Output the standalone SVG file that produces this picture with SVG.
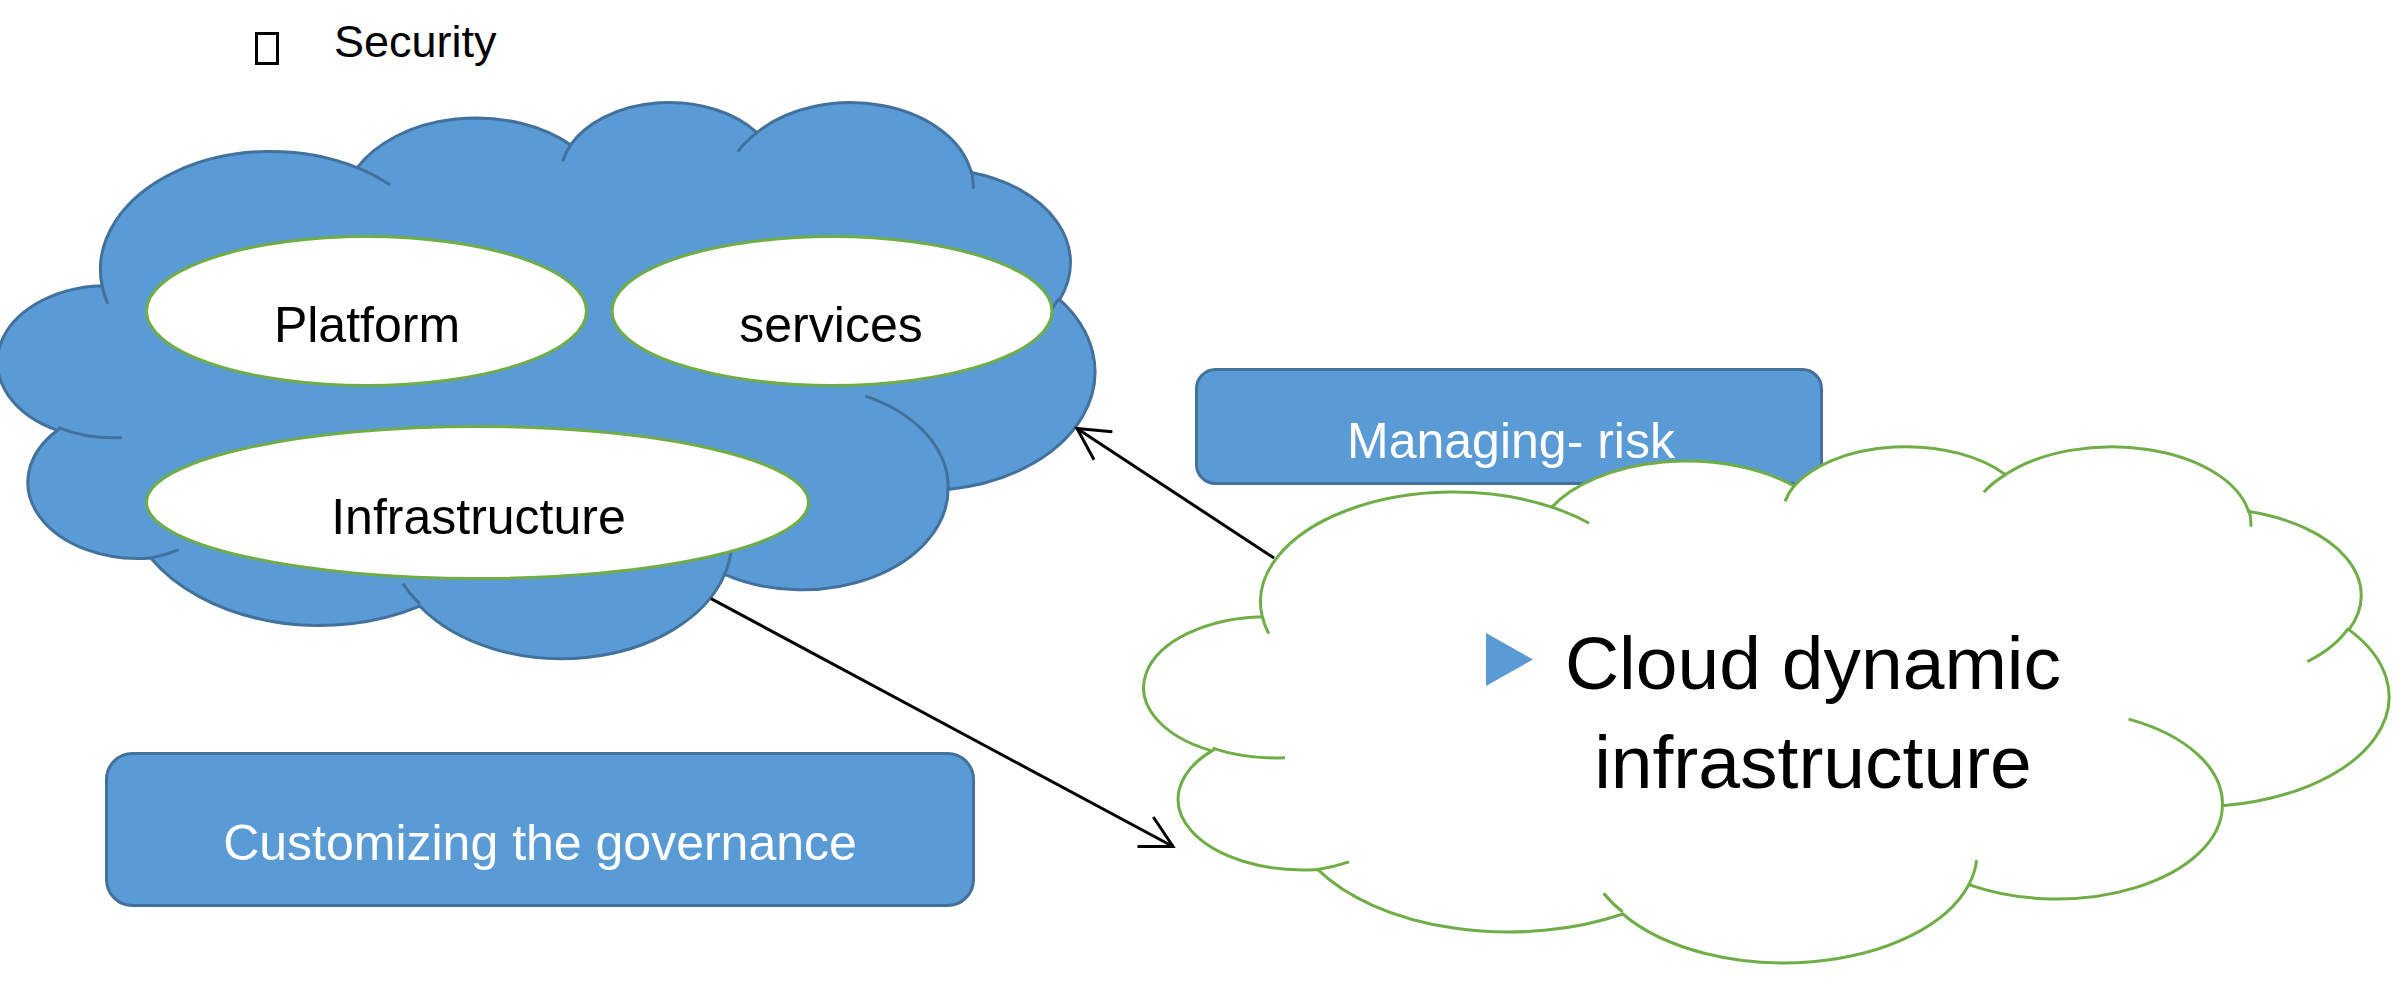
<svg xmlns="http://www.w3.org/2000/svg" xmlns:xlink="http://www.w3.org/1999/xlink" width="2393" height="990" viewBox="0 0 2393 990">
<style>
.lbl{font-family:"Liberation Sans",Arial,sans-serif;}
.blk{fill:#000000;}
.wht{fill:#FFFFFF;}
.blueFill{fill:#5B9BD5;stroke:#41719C;stroke-width:3;}
.blueLine{fill:none;stroke:#41719C;stroke-width:3;}
.whiteFill{fill:#FFFFFF;stroke:#70AD47;stroke-width:3;}
.greenLine{fill:none;stroke:#70AD47;stroke-width:3;}
.conn{fill:none;stroke:#000000;stroke-width:3;}
</style>
<defs>
<path id="cloudMain" vector-effect="non-scaling-stroke" d="M3900,14370 A6753,9190 0 0 1 14005,5202 A5333,7267 0 0 1 22456,3431 A4365,5945 0 0 1 29833,2479 A4857,6595 0 0 1 38318,5575 A5333,7273 0 0 1 41818,15459 A6775,9220 0 0 1 37404,30203 A5785,7867 0 0 1 28555,36813 A6752,9215 0 0 1 16480,39265 A7720,10543 0 0 1 5831,35533 A4360,5918 0 0 1 2140,25611 A4345,5945 0 0 1 3900,14370 Z"/>
<path id="cloudInner" vector-effect="non-scaling-stroke" d="M4693,26177 A4345,5945 0 0 1 2160,25380 M6928,34899 A4360,5918 0 0 1 5831,35533 M16478,39090 A6752,9215 0 0 1 15812,37524 M28827,34751 A6752,9215 0 0 1 28555,36813 M34129,22954 A5785,7867 0 0 1 37404,30203 M41798,15354 A5333,7273 0 0 1 40370,18134 M38324,5426 A4857,6595 0 0 1 38395,6838 M29078,3952 A4857,6595 0 0 1 29833,2479 M22141,4720 A4365,5945 0 0 1 22456,3431 M14005,5202 A6753,9190 0 0 1 15304,6550 M4127,15789 A6753,9190 0 0 1 3900,14370"/>
<marker id="openArrow" markerUnits="userSpaceOnUse" markerWidth="44" markerHeight="44" viewBox="-38 -22 44 44" refX="0" refY="0" orient="auto" overflow="visible">
<path d="M-30,-16 L0,0 L-30,16" fill="none" stroke="#000000" stroke-width="3" stroke-linecap="square"/>
</marker>
</defs>

<g id="node-security">
<rect x="256.5" y="33.5" width="21" height="30" fill="none" stroke="#000000" stroke-width="3"/>
<text class="lbl blk" x="334" y="57" font-size="45">Security</text>
</g>

<g id="node-left-cloud">
<use xlink:href="#cloudMain" class="blueFill" transform="translate(3.5,100.7) scale(0.0252546,0.0128704)"/>
<use xlink:href="#cloudInner" class="blueLine" transform="translate(3.5,100.7) scale(0.0252546,0.0128704)"/>
</g>

<g id="node-platform">
<ellipse cx="366.5" cy="311" rx="220" ry="74.5" class="whiteFill"/>
<text class="lbl blk" x="367" y="341.5" font-size="50" text-anchor="middle">Platform</text>
</g>

<g id="node-services">
<ellipse cx="832" cy="311" rx="220" ry="74.5" class="whiteFill"/>
<text class="lbl blk" x="831" y="341.5" font-size="50" text-anchor="middle">services</text>
</g>

<g id="node-infrastructure">
<ellipse cx="477.5" cy="502.5" rx="331" ry="76" class="whiteFill"/>
<text class="lbl blk" x="478.5" y="533.5" font-size="50" text-anchor="middle">Infrastructure</text>
</g>

<g id="node-customizing">
<rect x="106.5" y="753.5" width="867" height="152" rx="26" ry="26" class="blueFill"/>
<text class="lbl wht" x="540" y="860" font-size="50" text-anchor="middle">Customizing the governance</text>
</g>

<g id="node-managing-risk">
<rect x="1196.5" y="369.5" width="625" height="114" rx="19" ry="19" class="blueFill"/>
<text class="lbl wht" x="1511" y="458" font-size="50" text-anchor="middle">Managing- risk</text>
</g>

<g id="node-right-cloud">
<use xlink:href="#cloudMain" class="whiteFill" transform="translate(1150.5,445) scale(0.0286574,0.0119444)"/>
<use xlink:href="#cloudInner" class="greenLine" transform="translate(1150.5,445) scale(0.0286574,0.0119444)"/>
<polygon points="1486,633 1533,659.5 1486,686" fill="#5B9BD5"/>
<text class="lbl blk" font-size="75" text-anchor="middle"><tspan x="1813" y="688.5">Cloud dynamic</tspan><tspan x="1813" y="788">infrastructure</tspan></text>
</g>

<g id="connectors">
<line x1="1274" y1="558" x2="1077" y2="428.5" class="conn" marker-end="url(#openArrow)"/>
<line x1="711" y1="598.6" x2="1173" y2="846.5" class="conn" marker-end="url(#openArrow)"/>
</g>
</svg>
